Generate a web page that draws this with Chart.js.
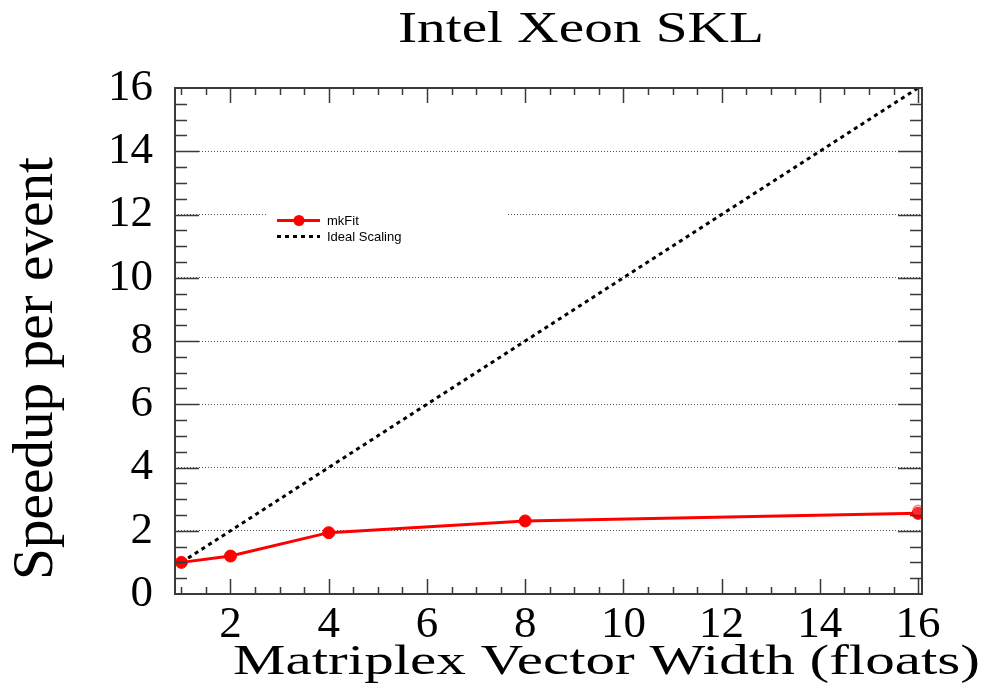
<!DOCTYPE html>
<html>
<head>
<meta charset="utf-8">
<style>
  html, body { margin: 0; padding: 0; background: #ffffff; }
  #wrap { width: 986px; height: 698px; position: relative; }
</style>
<script src="https://cdn.jsdelivr.net/npm/chart.js@4/dist/chart.umd.min.js"></script>
</head>
<body>
<div id="wrap"><canvas id="c" width="986" height="698"></canvas></div>
<script>
// ---- data ----
const vectorWidths = [1, 2, 4, 8, 16];
const mkFitSpeedup = [1.0, 1.2, 1.94, 2.31, 2.55];
const idealWidths = [1, 2, 4, 8, 16];
const idealSpeedup = [1, 2, 4, 8, 16];
const extraWidths = [16];
const extraSpeedup = [2.65];
const xTickValues = [2, 4, 6, 8, 10, 12, 14, 16];
const yTickValues = [0, 2, 4, 6, 8, 10, 12, 14, 16];
const titleText = 'Intel Xeon SKL';
const xTitleText = 'Matriplex Vector Width (floats)';
const yTitleText = 'Speedup per event';
const legendLabels = ['mkFit', 'Ideal Scaling'];

const serif = '"Liberation Serif", "Times New Roman", serif';
const sans = '"Liberation Sans", Arial, sans-serif';

function toPts(xs, ys) { return xs.map((x, i) => ({ x: x, y: ys[i] })); }

function drawStretched(ctx, text, x, y, fontPx, targetW, fontFam) {
  ctx.save();
  ctx.font = fontPx + 'px ' + fontFam;
  const w = ctx.measureText(text).width;
  const sx = targetW / w;
  ctx.translate(x, y);
  ctx.scale(sx, 1);
  ctx.textAlign = 'left';
  ctx.textBaseline = 'alphabetic';
  ctx.fillStyle = '#000';
  ctx.fillText(text, 0, 0);
  ctx.restore();
}

const rootStyle = {
  id: 'rootStyle',
  beforeDatasetsDraw(chart) {
    const ctx = chart.ctx;
    ctx.save();
    ctx.fillStyle = '#ffffff';
    ctx.fillRect(268, 205, 238, 42);
    ctx.restore();
  },
  afterDraw(chart) {
    const ctx = chart.ctx;
    const a = chart.chartArea;
    const xs = chart.scales.x, ys = chart.scales.y;
    ctx.save();
    ctx.strokeStyle = '#3a3a3a';
    ctx.lineWidth = 1.5;
    ctx.beginPath();
    for (let v = 1; v <= 16.001; v += 0.5) {
      const px = Math.round(xs.getPixelForValue(v)) + 0.5;
      const major = Math.abs(v / 2 - Math.round(v / 2)) < 1e-6;
      const L = major ? 15 : 7;
      ctx.moveTo(px, a.bottom); ctx.lineTo(px, a.bottom - L);
      ctx.moveTo(px, a.top); ctx.lineTo(px, a.top + L);
    }
    for (let v = 0.5; v < 16; v += 0.5) {
      const py = Math.round(ys.getPixelForValue(v)) + 0.5;
      const major = Math.abs(v / 2 - Math.round(v / 2)) < 1e-6;
      const L = major ? 24 : 12;
      ctx.moveTo(a.left, py); ctx.lineTo(a.left + L, py);
      ctx.moveTo(a.right, py); ctx.lineTo(a.right - L, py);
    }
    ctx.stroke();
    ctx.lineWidth = 2;
    ctx.strokeRect(a.left, a.top, a.right - a.left, a.bottom - a.top);
    ctx.restore();

    // legend entries
    const ds = chart.data.datasets;
    ctx.save();
    const rows = [220.5, 236.5];
    for (let i = 0; i < 2; i++) {
      const d = ds[i];
      ctx.strokeStyle = d.borderColor;
      ctx.lineWidth = 3;
      ctx.setLineDash(d.borderDash || []);
      ctx.beginPath();
      ctx.moveTo(277, rows[i]); ctx.lineTo(320, rows[i]);
      ctx.stroke();
      ctx.setLineDash([]);
      if (i === 0) {
        ctx.fillStyle = d.pointBackgroundColor;
        ctx.beginPath(); ctx.arc(299, rows[i], 5.5, 0, Math.PI * 2); ctx.fill();
      }
      ctx.fillStyle = '#000';
      ctx.font = '13px ' + sans;
      ctx.textBaseline = 'middle';
      ctx.textAlign = 'left';
      ctx.fillText(legendLabels[i], 327, rows[i] + 0.5);
    }
    ctx.restore();

    // titles
    drawStretched(ctx, titleText, 398, 42, 44, 366, serif);
    drawStretched(ctx, xTitleText, 233, 674, 43, 747, serif);
    ctx.save();
    ctx.translate(52, 580);
    ctx.rotate(-Math.PI / 2);
    drawStretched(ctx, yTitleText, 0, 0, 58, 423, serif);
    ctx.restore();
  }
};

new Chart(document.getElementById('c'), {
  type: 'scatter',
  data: {
    datasets: [
      {
        label: legendLabels[0],
        data: toPts(vectorWidths, mkFitSpeedup),
        showLine: true,
        borderColor: '#ff0000',
        backgroundColor: '#ff0000',
        pointBackgroundColor: '#ff0000',
        pointBorderColor: '#ff0000',
        borderWidth: 3,
        pointRadius: 6,
        pointBorderWidth: 1,
        order: 1
      },
      {
        label: legendLabels[1],
        data: toPts(idealWidths, idealSpeedup),
        showLine: true,
        borderColor: '#000000',
        backgroundColor: '#000000',
        borderDash: [4, 4],
        borderWidth: 3,
        pointRadius: 0,
        order: 2
      },
      {
        label: 'mkFit (extra)',
        data: toPts(extraWidths, extraSpeedup),
        showLine: false,
        borderColor: 'rgba(255,0,0,0.45)',
        backgroundColor: 'rgba(255,255,255,0)',
        pointBackgroundColor: 'rgba(255,120,120,0.35)',
        pointBorderColor: 'rgba(255,60,60,0.6)',
        pointBorderWidth: 1.5,
        pointRadius: 5,
        order: 0
      }
    ]
  },
  options: {
    responsive: false,
    animation: false,
    events: [],
    layout: { padding: { left: 0, top: 88, right: 64, bottom: 0 } },
    plugins: {
      legend: { display: false },
      title: { display: false },
      tooltip: { enabled: false }
    },
    scales: {
      x: {
        type: 'linear',
        position: 'bottom',
        min: 0.87,
        max: 16.08,
        afterBuildTicks(s) { s.ticks = xTickValues.map(v => ({ value: v })); },
        afterFit(s) { s.height = 104; },
        grid: { display: false, drawTicks: false },
        border: { display: false },
        ticks: {
          color: '#000',
          padding: 4,
          maxRotation: 0,
          autoSkip: false,
          font: { family: serif, size: 45 }
        }
      },
      y: {
        type: 'linear',
        position: 'left',
        min: 0,
        max: 16,
        afterBuildTicks(s) { s.ticks = yTickValues.map(v => ({ value: v })); },
        afterFit(s) { s.width = 175; },
        grid: {
          display: true,
          drawTicks: false,
          color: '#555555',
          lineWidth: 1
        },
        border: { display: false, dash: [1, 2] },
        ticks: {
          color: '#000',
          padding: 22,
          autoSkip: false,
          font: { family: serif, size: 45 }
        }
      }
    }
  },
  plugins: [rootStyle]
});
</script>
</body>
</html>
